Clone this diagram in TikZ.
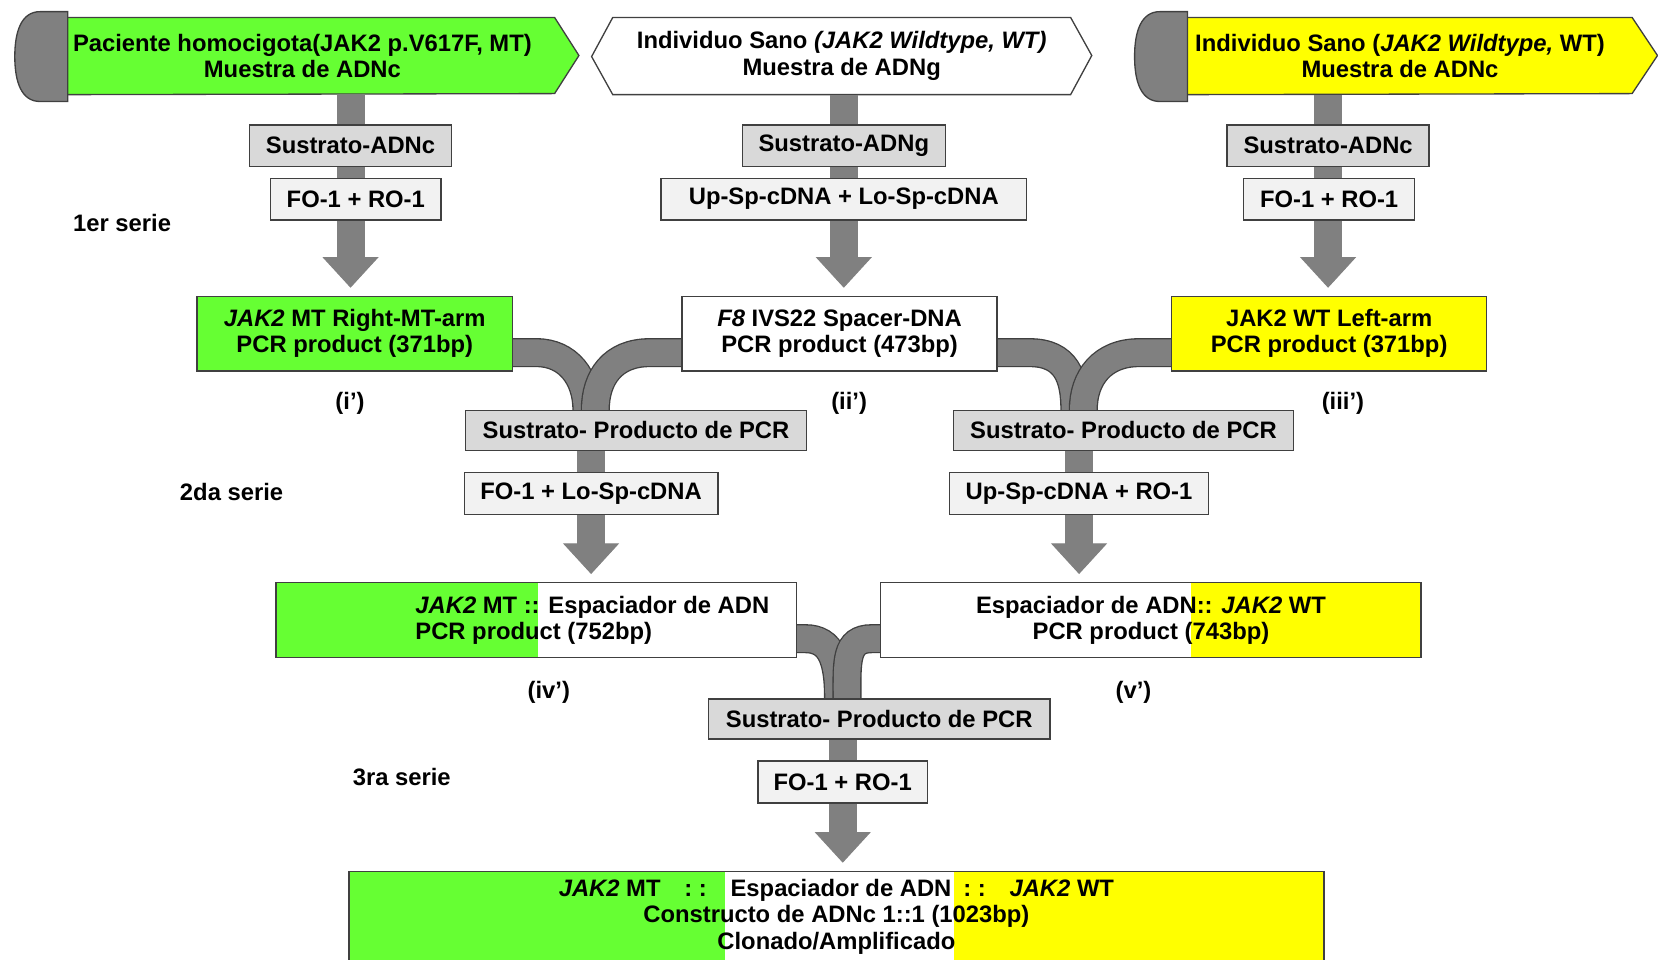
\documentclass[tikz,border=0pt]{standalone}
\usepackage{fontspec}
\setmainfont{Liberation Sans}
\usetikzlibrary{arrows.meta,calc}
\pgfdeclarelayer{bg}
\pgfsetlayers{bg,main}
\definecolor{mtgreen}{HTML}{66FF33}
\definecolor{wtyellow}{HTML}{FFFF00}
\definecolor{shaftgray}{HTML}{808080}
\definecolor{subgray}{HTML}{D9D9D9}
\definecolor{primgray}{HTML}{F2F2F2}
\definecolor{edgegray}{HTML}{404040}
\tikzset{
  txt/.style={inner sep=0pt,font=\fontsize{9}{10}\selectfont\bfseries},
  src/.style={txt,anchor=center,align=center,minimum height=28.8pt},
  box/.style={txt,anchor=center,align=center,draw=edgegray,line width=0.5pt},
  subbox/.style={box,fill=subgray,minimum height=15.6pt},
  primbox/.style={box,fill=primgray,minimum height=15.8pt},
  prodbox/.style={box,minimum height=28.2pt},
  banner/.style={draw=edgegray,line width=0.5pt},
  capshape/.style={draw=edgegray,line width=0.5pt,fill=shaftgray},
  shaft/.style={draw=shaftgray,line width=10.6pt,shorten >=3pt,
    -{Triangle[width=21.2pt,length=11.6pt,line width=0.4pt]}},
  pipe/.style={draw=edgegray,line width=0.5pt,double=shaftgray,double distance=10pt},
}
\begin{document}
\begin{tikzpicture}[x=0.4pt,y=-0.4pt]
        \useasboundingbox (0,0) rectangle (1568,907);
        %% sources
        \node[src,minimum width=177.6pt] (srcMT) at (286,53) {Paciente homocigota(JAK2 p.V617F, MT)\\Muestra de ADNc};
        \node[src,minimum width=172.8pt] (srcWTg) at (796,53) {Individuo Sano \textit{(JAK2 Wildtype, WT)}\\Muestra de ADNg};
        \node[src,minimum width=160.8pt] (srcWTc) at (1324,53) {Individuo Sano (\textit{JAK2 Wildtype,} WT)\\Muestra de ADNc};
        %% 1er serie
        \node[subbox,minimum width=76.4pt] (subA) at (331.5,137.8) {Sustrato-ADNc};
        \node[primbox,minimum width=64.4pt] (primA) at (336.5,188.3) {FO-1 + RO-1};
        \node[subbox,minimum width=76.8pt] (subG) at (798,137.8) {Sustrato-ADNg};
        \node[primbox,minimum width=138.4pt] (primG) at (798,188.3) {Up-Sp-cDNA + Lo-Sp-cDNA};
        \node[subbox,minimum width=76.4pt] (subC) at (1256,137.8) {Sustrato-ADNc};
        \node[primbox,minimum width=64.6pt] (primC) at (1257,188.3) {FO-1 + RO-1};
        \node[txt] (ser1) at (115.5,211) {1er serie};
        %% products of the first serie
        \node[prodbox,fill=mtgreen,minimum width=119.4pt] (armMT) at (335.5,315.5) {\textit{JAK2} MT Right-MT-arm\\PCR product (371bp)};
        \node[prodbox,fill=white,minimum width=119.2pt] (spacer) at (794,315.5) {\textit{F8} IVS22 Spacer-DNA\\PCR product (473bp)};
        \node[prodbox,fill=wtyellow,minimum width=119.2pt] (armWT) at (1257,315.5) {JAK2 WT Left-arm\\PCR product (371bp)};
        \node[txt] (lbI) at (331,381) {(i')};
        \node[txt] (lbII) at (803,381) {(ii')};
        \node[txt] (lbIII) at (1270,381) {(iii')};
        %% 2da serie
        \node[subbox,minimum width=129.2pt,minimum height=15.2pt] (subL) at (601.5,407) {Sustrato- Producto de PCR};
        \node[primbox,minimum width=96pt] (primL) at (559,466.5) {FO-1 + Lo-Sp-cDNA};
        \node[subbox,minimum width=128.4pt,minimum height=15.2pt] (subR) at (1062.5,407) {Sustrato- Producto de PCR};
        \node[primbox,minimum width=98pt] (primR) at (1020.5,466.5) {Up-Sp-cDNA + RO-1};
        \node[txt] (ser2) at (219,465) {2da serie};
        %% products of the second serie
        \node[prodbox,minimum width=196.8pt,minimum height=28.4pt,
          path picture={\fill[mtgreen] (path picture bounding box.north west) rectangle ([xshift=99.2pt]path picture bounding box.south west);}] (jnMT) at (507,586.5) {};
        \node[txt,anchor=west,align=left] at ([xshift=52.8pt]jnMT.west) {\textit{JAK2} MT :: Espaciador de ADN\\PCR product (752bp)};
        \node[prodbox,minimum width=204.4pt,minimum height=28.4pt,
          path picture={\fill[wtyellow] ([xshift=117.2pt]path picture bounding box.north west) rectangle (path picture bounding box.south east);}] (jnWT) at (1088.5,586.5) {Espaciador de ADN:: \textit{JAK2} WT\\PCR product (743bp)};
        \node[txt] (lbIV) at (519,655) {(iv')};
        \node[txt] (lbV) at (1072,655) {(v')};
        %% 3ra serie
        \node[subbox,minimum width=129.2pt,minimum height=15.2pt] (subB) at (831.5,680) {Sustrato- Producto de PCR};
        \node[primbox,minimum width=64pt] (primB) at (797,739.5) {FO-1 + RO-1};
        \node[txt] (ser3) at (380,735) {3ra serie};
        %% final construct
        \node[box,minimum width=368.8pt,minimum height=34.4pt,
          path picture={\fill[mtgreen] (path picture bounding box.north west) rectangle ([xshift=142.4pt]path picture bounding box.south west);
            \fill[wtyellow] ([xshift=228.8pt]path picture bounding box.north west) rectangle (path picture bounding box.south east);}] (final) at (791,867)
          {\textit{JAK2} MT\quad: :\quad Espaciador de ADN\enspace: :\quad\textit{JAK2} WT\\Constructo de ADNc 1::1 (1023bp)\\Clonado/Amplificado};
        \begin{pgfonlayer}{bg}
        \fill[white] (0,0) rectangle (1568,907);
        %% banners
        \filldraw[banner,fill=mtgreen] (srcMT.north west) -- ++(461,0) -- ++(23,36) -- ++(-23,36) -- (srcMT.south west) -- cycle;
        \filldraw[banner,fill=white] (srcWTg.north west) -- (srcWTg.north east) -- ++(20,36) -- (srcWTg.south east) -- (srcWTg.south west) -- ++(-20,-36) -- cycle;
        \filldraw[banner,fill=wtyellow] (srcWTc.north west) -- ++(421,0) -- ++(24,36) -- ++(-24,36) -- (srcWTc.south west) -- cycle;
        \filldraw[capshape] (64,11) -- (38,11) .. controls (20,11) and (14,30) .. (14,53.5) .. controls (14,77) and (20,96) .. (38,96) -- (64,96) -- cycle;
        \filldraw[capshape] (1123,11) -- (1097,11) .. controls (1079,11) and (1073,30) .. (1073,53.5) .. controls (1073,77) and (1079,96) .. (1097,96) -- (1123,96) -- cycle;
        %% first serie arrows
        \draw[shaft] (subA |- srcMT.south) -- (subA |- armMT.north);
        \draw[shaft] (subG |- srcWTg.south) -- (subG |- spacer.north);
        \draw[shaft] (subC |- srcWTc.south) -- (subC |- armWT.north);
        %% merging pipes
        \draw[pipe] ([yshift=-7.2pt]armMT.east) -- ++(22,0) .. controls +(30,0) and +(0,-30) .. ($(primL |- subL.north)+(-4,0)$) -- ++(0,10);
        \draw[pipe] ([yshift=-7.2pt]spacer.west) -- ++(-30,0) .. controls +(-35,0) and +(0,-30) .. ($(primL |- subL.north)+(4,0)$) -- ++(0,10);
        \draw[pipe] ([yshift=-7.2pt]spacer.east) -- ++(30,0) .. controls +(35,0) and +(0,-30) .. ($(primR |- subR.north)+(-4,0)$) -- ++(0,10);
        \draw[pipe] ([yshift=-7.2pt]armWT.west) -- ++(-30,0) .. controls +(-35,0) and +(0,-30) .. ($(primR |- subR.north)+(4,0)$) -- ++(0,10);
        \draw[pipe] ([yshift=-7pt]jnMT.east) -- ++(8,0) .. controls +(25,0) and +(0,-35) .. ($(primB |- subB.north)+(-4,0)$) -- ++(0,10);
        \draw[pipe] ([yshift=-7pt]jnWT.west) -- ++(-8,0) .. controls +(-25,0) and +(0,-35) .. ($(primB |- subB.north)+(4,0)$) -- ++(0,10);
        %% second and third serie arrows
        \draw[shaft] (primL |- subL.north) -- (primL |- jnMT.north);
        \draw[shaft] (primR |- subR.north) -- (primR |- jnWT.north);
        \draw[shaft] (primB |- subB.north) -- (primB |- final.north);
        \end{pgfonlayer}
    \end{tikzpicture}
\end{document}
